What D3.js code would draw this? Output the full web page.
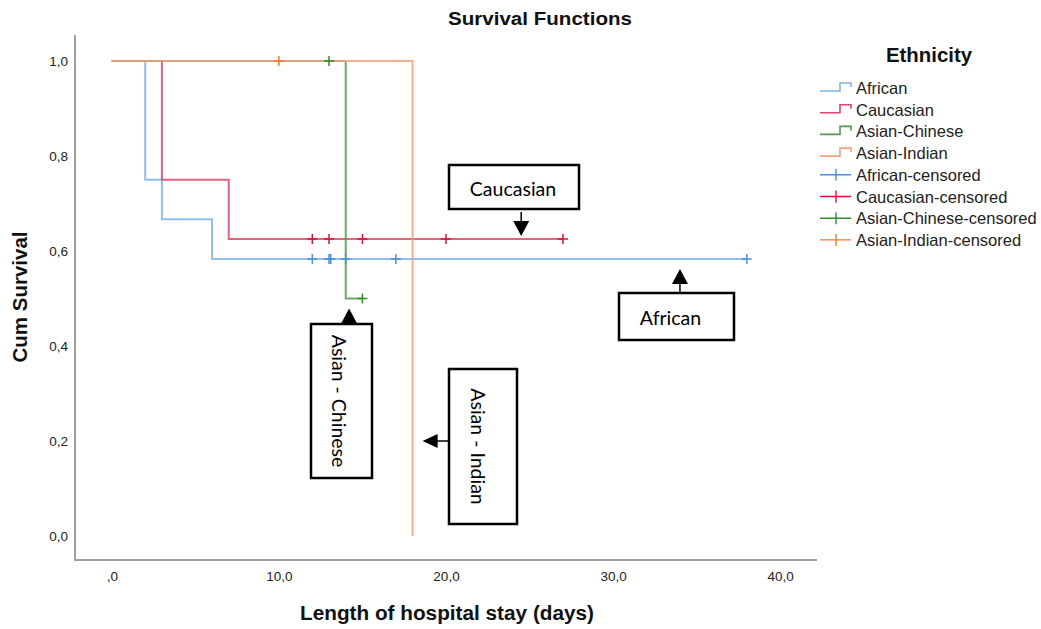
<!DOCTYPE html>
<html><head><meta charset="utf-8">
<script src="https://cdn.jsdelivr.net/npm/d3@7/dist/d3.min.js"></script>
<style>body{margin:0;background:#fff}svg{display:block}</style>
</head><body>
<svg id="c" width="1041" height="629"></svg>
<script>
// ---- data ----
const seriesNames = ["African", "Caucasian", "Asian-Chinese", "Asian-Indian"];
const africanSteps = [[0,1],[2,0.75],[3,0.667],[6,0.583],[38,0.583]];
const caucasianSteps = [[0,1],[3,0.75],[7,0.625],[27,0.625]];
const chineseSteps = [[0,1],[14,0.5],[15,0.5]];
const indianSteps = [[0,1],[18,0]];
const africanCensored = [[12,0.583],[13,0.583],[13.1,0.583],[14,0.583],[17,0.583],[38,0.583]];
const caucasianCensored = [[12,0.625],[13,0.625],[15,0.625],[20,0.625],[27,0.625]];
const chineseCensored = [[13,1],[15,0.5]];
const indianCensored = [[10,1]];
const xTicks = [0,10,20,30,40];
const xTickLabels = [",0","10,0","20,0","30,0","40,0"];
const yTicks = [0,0.2,0.4,0.6,0.8,1.0];
const yTickLabels = ["0,0","0,2","0,4","0,6","0,8","1,0"];
const lineColors = ["#7fb1ec","#e0456a","#4f9a4f","#f6a07c"];
const censorColors = ["#4a8ee0","#e0103c","#2f8f2f","#f07a30"];
const legendLabels = ["African","Caucasian","Asian-Chinese","Asian-Indian",
  "African-censored","Caucasian-censored","Asian-Chinese-censored","Asian-Indian-censored"];
const annotations = [
  {text:"Caucasian", at:[24.5,0.625], dir:"down"},
  {text:"African", at:[34,0.583], dir:"up"},
  {text:"Asian - Chinese", at:[14.2,0.5], dir:"up"},
  {text:"Asian - Indian", at:[18.6,0.2], dir:"left"}
];

const steps = [africanSteps, caucasianSteps, chineseSteps, indianSteps];
const censored = [africanCensored, caucasianCensored, chineseCensored, indianCensored];

const svg = d3.select("#c");
const x = d3.scaleLinear().domain([-2.2, 42.2]).range([75, 817]);
const y = d3.scaleLinear().domain([-0.0505, 1.0547]).range([560, 35]);
const FONT = "Liberation Sans, Arial, sans-serif";

// title
svg.append("text").attr("x", 540).attr("y", 25).attr("text-anchor","middle")
  .attr("font-family", FONT).attr("font-weight","bold")
  .attr("font-size", 18).attr("textLength", 184).attr("lengthAdjust","spacingAndGlyphs")
  .attr("fill","#111").text("Survival Functions");

// axes lines
const axisColor = "#a0a0a0";
svg.append("line").attr("x1", x.range()[0]).attr("x2", x.range()[1])
  .attr("y1", y.range()[0]).attr("y2", y.range()[0]).attr("stroke", axisColor).attr("stroke-width", 2);
svg.append("line").attr("x1", x.range()[0]).attr("x2", x.range()[0])
  .attr("y1", y.range()[1]).attr("y2", y.range()[0] + 1).attr("stroke", axisColor).attr("stroke-width", 2);

// x axis ticks via d3 axis
const xAxis = d3.axisBottom(x).tickValues(xTicks).tickSize(0)
  .tickFormat((d,i) => xTickLabels[i]);
const gx = svg.append("g").attr("transform", `translate(0,${y.range()[0]})`).call(xAxis);
gx.select(".domain").remove();
gx.selectAll("text").attr("dy", null).attr("y", 21)
  .attr("font-family", FONT).attr("font-size", 13.5).attr("fill","#222");

const yAxis = d3.axisLeft(y).tickValues(yTicks).tickSize(0)
  .tickFormat((d,i) => yTickLabels[i]);
const gy = svg.append("g").attr("transform", `translate(${x.range()[0] - 7},0)`).call(yAxis);
gy.select(".domain").remove();
gy.selectAll("text").attr("x", 0)
  .attr("font-family", FONT).attr("font-size", 13.5).attr("fill","#222");

// axis titles
svg.append("text").attr("x", 447).attr("y", 620).attr("text-anchor","middle")
  .attr("font-family", FONT).attr("font-weight","bold")
  .attr("font-size", 20).attr("textLength", 294).attr("lengthAdjust","spacingAndGlyphs")
  .attr("fill","#111").text("Length of hospital stay (days)");
svg.append("text").attr("transform","translate(27,297) rotate(-90)").attr("text-anchor","middle")
  .attr("font-family", FONT).attr("font-weight","bold")
  .attr("font-size", 20).attr("textLength", 131).attr("lengthAdjust","spacingAndGlyphs")
  .attr("fill","#111").text("Cum Survival");

// step lines
const line = d3.line().x(d => x(d[0])).y(d => y(d[1])).curve(d3.curveStepAfter);
steps.forEach((s, i) => {
  svg.append("path").datum(s).attr("d", line).attr("fill","none")
    .attr("stroke", lineColors[i]).attr("stroke-width", 2).attr("stroke-opacity", 0.85);
});
// censor marks
censored.forEach((c, i) => {
  svg.append("g").selectAll("path").data(c).join("path")
    .attr("d", d => `M${x(d[0])-5},${y(d[1])}H${x(d[0])+5}M${x(d[0])},${y(d[1])-5}V${y(d[1])+5}`)
    .attr("stroke", censorColors[i]).attr("stroke-width", 1.5).attr("fill","none");
});

// legend
svg.append("text").attr("x", 929).attr("y", 62).attr("text-anchor","middle")
  .attr("font-family", FONT).attr("font-weight","bold")
  .attr("font-size", 20).attr("textLength", 86).attr("lengthAdjust","spacingAndGlyphs")
  .attr("fill","#111").text("Ethnicity");
const lg = svg.append("g");
legendLabels.forEach((lab, i) => {
  const cy = 88 + i * 21.7;
  const ci = i % 4;
  if (i < 4) {
    lg.append("path").attr("d", `M820,${cy+3}H840V${cy-5}H851V${cy-1}`)
      .attr("fill","none").attr("stroke", lineColors[ci]).attr("stroke-width", 1.6);
  } else {
    lg.append("path").attr("d", `M820,${cy}H851M836,${cy-6}V${cy+6}`)
      .attr("fill","none").attr("stroke", censorColors[ci]).attr("stroke-width", 1.4);
  }
  lg.append("text").attr("x", 856).attr("y", cy + 6)
    .attr("font-family", FONT).attr("font-size", 16.5)
    .attr("fill","#222").text(lab);
});

// annotations (boxes + arrows)
const boxes = [
  {x0:449, y0:165, w:130, h:44, rot:false, dx:-1},
  {x0:619, y0:293, w:115, h:47, rot:false, dx:-6},
  {x0:311, y0:324, w:61, h:154, rot:true, dx:-2.5},
  {x0:449, y0:369, w:68, h:155, rot:true, dx:-5}
];
const ag = svg.append("g");
annotations.forEach((a, i) => {
  const b = boxes[i];
  ag.append("rect").attr("x", b.x0).attr("y", b.y0).attr("width", b.w).attr("height", b.h)
    .attr("fill","#fff").attr("stroke","#000").attr("stroke-width", 2.5);
  const cx = b.x0 + b.w/2 + b.dx, cy = b.y0 + b.h/2;
  const t = ag.append("text").attr("text-anchor","middle").attr("dominant-baseline","central")
    .attr("font-family","Lato, Open Sans, sans-serif").attr("font-size", 19.5).attr("fill","#000").text(a.text);
  if (b.rot) t.attr("transform", `translate(${cx},${cy}) rotate(90)`);
  else t.attr("x", cx).attr("y", cy + 1);
  const px = x(a.at[0]), py = y(a.at[1]);
  let d, head;
  if (a.dir === "down") {
    const tip = py - 3;
    d = `M${px},${b.y0+b.h+3}V${tip-14}`;
    head = `M${px-8},${tip-15}L${px+8},${tip-15}L${px},${tip}Z`;
  } else if (a.dir === "up") {
    const tip = py + 10;
    d = `M${px},${b.y0}V${tip+14}`;
    head = `M${px-8},${tip+15}L${px+8},${tip+15}L${px},${tip}Z`;
  } else {
    const tip = px;
    d = `M${b.x0},${py}H${tip+14}`;
    head = `M${tip+15},${py-7}L${tip+15},${py+7}L${tip},${py}Z`;
  }
  ag.append("path").attr("d", d).attr("stroke","#000").attr("stroke-width", 1.5);
  ag.append("path").attr("d", head).attr("fill","#000");
});
</script>
</body></html>
